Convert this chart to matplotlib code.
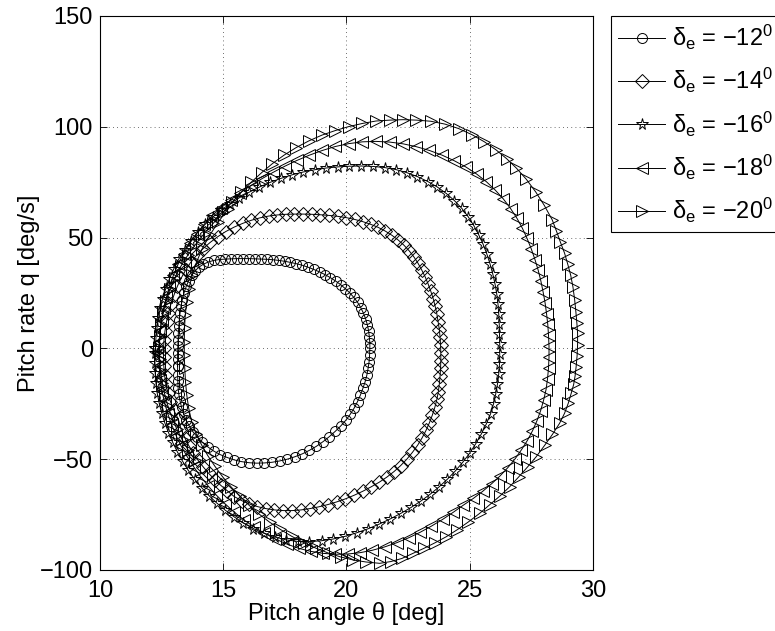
import numpy as np
import matplotlib
matplotlib.use("Agg")
import matplotlib.pyplot as plt

# (pitch angle theta [deg], pitch rate q [deg/s])
loop_12 = [
    (13.15, -8), (13.15, -5), (13.15, -2), (13.16, 1), (13.17, 4), (13.18, 7), (13.2, 10),
    (13.22, 13), (13.25, 16), (13.29, 19), (13.34, 22), (13.41, 25), (13.5, 28),
    (13.6, 30.6), (13.72, 33), (13.86, 35), (14.02, 36.7), (14.2, 38), (14.4, 39),
    (14.62, 39.7), (14.85, 40.1), (15.09, 40.3), (15.33, 40.4), (15.57, 40.5), (15.81, 40.5),
    (16.05, 40.5), (16.29, 40.4), (16.53, 40.3), (16.77, 40.2), (17.01, 40.0), (17.25, 39.7),
    (17.49, 39.3), (17.73, 38.8), (17.97, 38.2), (18.21, 37.5), (18.45, 36.6), (18.68, 35.6),
    (18.91, 34.5), (19.13, 33.3), (19.35, 31.9), (19.56, 30.4), (19.76, 28.8), (19.95, 27),
    (20.13, 25.1), (20.3, 23), (20.45, 20.8), (20.58, 18.4), (20.69, 15.9), (20.78, 13.3),
    (20.85, 10.6), (20.9, 7.9), (20.93, 5.2), (20.95, 2.4), (20.95, 0), (20.94, -3),
    (20.92, -6), (20.88, -9), (20.83, -12), (20.76, -15), (20.67, -18), (20.57, -21),
    (20.45, -24), (20.31, -27), (20.15, -29.8), (19.97, -32.5), (19.77, -35), (19.55, -37.4),
    (19.31, -39.8), (19.05, -42.1), (18.78, -44.2), (18.5, -46), (18.21, -47.6),
    (17.91, -48.9), (17.6, -50), (17.29, -50.8), (16.98, -51.4), (16.67, -51.7),
    (16.36, -51.8), (16.05, -51.6), (15.74, -51.1), (15.44, -50.3), (15.15, -49.2),
    (14.87, -47.9), (14.61, -46.3), (14.37, -44.4), (14.15, -42.3), (13.95, -40),
    (13.77, -37.6), (13.62, -35), (13.49, -32.3), (13.39, -29.5), (13.31, -26.6),
    (13.25, -23.7), (13.2, -20.8), (13.17, -17.8), (13.16, -14.8), (13.15, -11.8),
    (13.15, -8),
]

loop_14 = [
    (13.18, -32), (13.0, -28), (12.86, -24), (12.75, -20), (12.67, -16), (12.62, -12),
    (12.59, -8), (12.58, -4), (12.58, 0), (12.6, 4), (12.64, 8), (12.7, 12), (12.78, 16),
    (12.88, 20), (13.0, 24), (13.14, 28), (13.3, 31.8), (13.48, 35.4), (13.68, 38.8),
    (13.92, 42), (14.18, 45), (14.47, 47.8), (14.78, 50.4), (15.1, 52.7), (15.44, 54.7),
    (15.79, 56.4), (16.14, 57.8), (16.49, 58.9), (16.84, 59.7), (17.19, 60.2), (17.54, 60.5),
    (17.89, 60.6), (18.24, 60.6), (18.59, 60.5), (18.94, 60.3), (19.29, 60.0), (19.64, 59.6),
    (19.99, 59.0), (20.33, 58.2), (20.66, 57.2), (20.98, 56.0), (21.29, 54.6), (21.58, 52.9),
    (21.85, 51.0), (22.1, 48.9), (22.33, 46.6), (22.54, 44.1), (22.73, 41.4), (22.9, 38.5),
    (23.05, 35.5), (23.19, 32.4), (23.31, 29.2), (23.42, 25.9), (23.52, 22.5), (23.6, 19.0),
    (23.67, 15.5), (23.72, 12.0), (23.77, 8.5), (23.8, 5.0), (23.82, 1.5), (23.83, -2.0),
    (23.83, -5.5), (23.82, -9.0), (23.8, -12.5), (23.77, -16.0), (23.73, -19.5),
    (23.67, -23.0), (23.59, -26.5), (23.49, -30.0), (23.37, -33.5), (23.23, -37.0),
    (23.07, -40.4), (22.89, -43.7), (22.68, -46.9), (22.45, -50.0), (22.2, -52.9),
    (21.93, -55.6), (21.64, -58.1), (21.33, -60.4), (21.0, -62.5), (20.66, -64.5),
    (20.31, -66.3), (19.96, -67.9), (19.6, -69.3), (19.24, -70.5), (18.88, -71.5),
    (18.52, -72.3), (18.16, -72.9), (17.8, -73.2), (17.44, -73.2), (17.08, -72.9),
    (16.73, -72.3), (16.39, -71.4), (16.06, -70.2), (15.75, -68.7), (15.45, -66.9),
    (15.17, -64.3), (14.9, -61.8), (14.65, -59.2), (14.41, -56.4), (14.19, -53.5),
    (13.98, -50.5), (13.79, -47.3), (13.61, -44.0), (13.45, -40.5), (13.3, -36.8),
    (13.18, -32),
]

loop_16 = [
    (12.25, 0), (12.27, 4.5), (12.31, 9), (12.37, 13.5), (12.45, 18), (12.55, 22.5),
    (12.67, 27), (12.82, 31.5), (13.0, 36), (13.2, 40.3), (13.43, 44.5), (13.68, 48.5),
    (13.96, 52.3), (14.26, 55.9), (14.58, 59.3), (14.92, 62.4), (15.28, 65.3), (15.66, 68),
    (16.06, 70.5), (16.47, 72.8), (16.9, 74.9), (17.34, 76.7), (17.79, 78.3), (18.25, 79.6),
    (18.71, 80.6), (19.18, 81.4), (19.65, 81.9), (20.12, 82.2), (20.6, 82.3), (21.08, 82.1),
    (21.55, 81.6), (22.0, 80.7), (22.45, 79.3), (22.88, 77.5), (23.3, 75.3), (23.69, 72.8),
    (24.05, 69.9), (24.38, 66.7), (24.68, 63.2), (24.94, 59.4), (25.17, 55.4), (25.37, 51.2),
    (25.55, 46.9), (25.7, 42.5), (25.83, 38), (25.94, 33.5), (26.03, 29), (26.1, 24.5),
    (26.15, 20), (26.18, 15.5), (26.2, 11), (26.21, 6.5), (26.22, 2), (26.22, -2.5),
    (26.21, -7), (26.18, -11.5), (26.13, -16), (26.06, -20.5), (25.97, -25), (25.85, -29.5),
    (25.68, -34), (25.48, -38.5), (25.25, -43), (25.0, -47.3), (24.72, -51.4), (24.42, -55.3),
    (24.1, -59), (23.76, -62.5), (23.4, -65.8), (23.02, -68.9), (22.62, -71.8), (22.2, -74.5),
    (21.77, -77), (21.33, -79.3), (20.88, -81.4), (20.42, -83.2), (19.95, -84.8),
    (19.47, -86), (18.99, -86.8), (18.5, -87.2), (18.02, -87.1), (17.55, -86.4),
    (17.09, -85.1), (16.65, -83.4), (16.22, -81.3), (15.82, -78.8), (15.44, -76),
    (15.08, -73), (14.74, -69.8), (14.42, -66.4), (14.12, -62.8), (13.84, -59), (13.58, -55),
    (13.35, -50.9), (13.14, -46.7), (12.95, -42.4), (12.78, -38), (12.63, -33.6),
    (12.5, -29.1), (12.4, -24.6), (12.32, -20.1), (12.27, -15.6), (12.24, -11.1),
    (12.23, -6.6), (12.24, -2.1), (12.25, 0),
]

loop_18 = [
    (12.4, -2), (12.41, 3), (12.44, 8), (12.5, 13), (12.58, 18), (12.69, 23), (12.82, 28),
    (12.98, 33), (13.17, 38), (13.39, 42.8), (13.64, 47.4), (13.92, 51.8), (14.23, 56),
    (14.56, 60), (14.92, 63.5), (15.3, 67), (15.7, 70.3), (16.12, 73.5), (16.56, 76.5),
    (17.02, 79.4), (17.5, 82.2), (17.99, 84.8), (18.5, 87.2), (19.02, 89.3), (19.55, 91.1),
    (20.1, 92.4), (20.65, 93.2), (21.2, 93.4), (21.75, 93.1), (22.3, 92.3), (22.84, 91.0),
    (23.37, 89.3), (23.88, 87.2), (24.37, 84.7), (24.84, 81.9), (25.28, 78.7), (25.68, 75.2),
    (26.04, 71.4), (26.37, 67.4), (26.66, 63.1), (26.92, 58.7), (27.14, 54.2), (27.33, 49.6),
    (27.5, 44.9), (27.65, 40.1), (27.78, 35.3), (27.89, 30.4), (27.98, 25.5), (28.06, 20.6),
    (28.12, 15.7), (28.17, 10.8), (28.2, 5.9), (28.22, 1), (28.22, -3.9), (28.2, -8.8),
    (28.16, -13.7), (28.1, -18.6), (28.0, -23.4), (27.88, -28.1), (27.73, -32.7),
    (27.55, -37.2), (27.34, -41.6), (27.1, -45.8), (26.84, -49.9), (26.55, -53.8),
    (26.23, -57.6), (25.89, -61.1), (25.53, -64.5), (25.15, -67.7), (24.75, -70.7),
    (24.33, -74), (23.9, -77.2), (23.45, -80.2), (22.99, -83), (22.52, -85.5), (22.04, -87.7),
    (21.55, -89.6), (21.05, -91.1), (20.55, -92.2), (20.05, -92.8), (19.55, -92.9),
    (19.05, -92.5), (18.55, -91.6), (18.06, -90.2), (17.58, -88.3), (17.12, -86),
    (16.67, -83.4), (16.24, -80.5), (15.83, -77.3), (15.44, -73.8), (15.07, -70.1),
    (14.72, -66.2), (14.39, -62.1), (14.08, -57.8), (13.8, -53.4), (13.54, -48.9),
    (13.3, -44.2), (13.09, -39.4), (12.91, -34.5), (12.75, -29.5), (12.62, -24.5),
    (12.52, -19.4), (12.45, -14.3), (12.41, -9.2), (12.4, -4.1),
]

loop_20 = [
    (15.2, 63), (14.8, 57), (14.45, 51), (14.15, 45), (13.92, 39), (13.74, 33), (13.61, 27),
    (13.52, 21), (13.46, 15), (13.43, 9), (13.42, 3), (13.42, -3), (13.44, -9), (13.47, -15),
    (13.52, -21), (13.6, -27), (13.72, -33), (13.9, -38.5), (14.12, -43.5), (14.38, -48.5),
    (14.67, -53.3), (14.98, -58), (15.32, -62.5), (15.68, -66.8), (16.06, -70.9),
    (16.46, -74.8), (16.88, -78.4), (17.32, -81.7), (17.78, -84.8), (18.26, -87.6),
    (18.75, -90.1), (19.25, -92.3), (19.76, -94.1), (20.28, -95.5), (20.8, -96.4),
    (21.35, -97), (21.8, -96.2), (22.25, -94.8), (22.7, -92.5), (23.15, -90.2), (23.6, -87.7),
    (24.05, -85), (24.5, -81.8), (24.95, -78.3), (25.4, -74.5), (25.82, -70.5), (26.23, -66.6),
    (26.62, -62.5), (26.99, -58), (27.35, -53.5), (27.7, -48.9), (28.04, -43.8),
    (28.36, -38.8), (28.65, -33.8), (28.85, -29.3), (29.0, -24.8), (29.12, -20.3),
    (29.22, -16.3), (29.28, -12.3), (29.32, -8.3), (29.36, -3.3), (29.38, 1.7), (29.38, 6.8),
    (29.35, 11.5), (29.31, 16.5), (29.26, 22), (29.19, 27.8), (29.1, 33), (28.98, 38),
    (28.85, 43), (28.68, 48), (28.52, 53), (28.35, 58), (28.03, 64.5), (27.68, 70.6),
    (27.3, 76.3), (26.9, 81.3), (26.5, 85.6), (26.08, 89.5), (25.6, 93.2), (25.1, 96.4),
    (24.55, 99.2), (24.0, 101.2), (23.42, 102.5), (22.84, 103), (22.3, 103.2),
    (21.76, 103), (21.2, 102.6), (20.65, 101.5), (20.1, 100.1), (19.55, 98.3), (19.0, 96.2),
    (18.47, 93.6), (17.96, 90.6), (17.47, 87.2), (17.0, 83.4), (16.56, 79.3), (16.14, 75),
    (15.74, 70.5), (15.36, 66), (15.0, 61.4), (14.6, 56.5), (14.22, 51.7), (13.88, 46.9),
    (13.56, 42), (13.28, 37), (13.04, 31.9), (12.84, 26.7), (12.68, 21.5), (12.56, 16.2),
    (12.48, 10.9), (12.43, 5.6), (12.41, 0.3), (12.42, -5), (12.46, -10.3), (12.53, -15.6),
    (12.63, -20.9), (12.76, -26.1), (12.92, -31.2), (13.11, -36.2), (13.33, -41.1),
    (13.58, -45.9), (13.86, -50.5),
]

elevator = [-12, -14, -16, -18, -20]
markers = ["o", "D", "*", "<", ">"]
marker_sizes = [7.2, 7.0, 8.5, 8.5, 8.5]
x_ticks = [10, 15, 20, 25, 30]
y_ticks = [-100, -50, 0, 50, 100, 150]

plt.rcParams["font.family"] = ["Liberation Sans", "DejaVu Sans"]
plt.rcParams["mathtext.fontset"] = "custom"
plt.rcParams["mathtext.rm"] = "Liberation Sans"
plt.rcParams["mathtext.it"] = "Liberation Sans:italic"
plt.rcParams["mathtext.default"] = "regular"

fig = plt.figure(figsize=(7.75, 6.31), dpi=100)
ax = fig.add_axes([0.129, 0.0967, 0.636, 0.878])

for pts, de, mk, ms in zip([loop_12, loop_14, loop_16, loop_18, loop_20],
                           elevator, markers, marker_sizes):
    arr = np.array(pts)
    label = r"$\delta_e$ = $-%d^0$" % abs(de)
    ax.plot(arr[:, 0], arr[:, 1], color="k", lw=0.7, marker=mk, ms=ms,
            mfc="none", mec="k", mew=0.7, label=label)

ax.set_xlim(10, 30)
ax.set_ylim(-100, 150)
ax.set_xticks(x_ticks)
ax.set_yticks(y_ticks)
ax.grid(True, linestyle=(0, (1, 4)), color="0.25", lw=0.6)
ax.tick_params(direction="in", top=True, right=True, length=5, width=0.6, labelsize=17)
ax.tick_params(axis="x", pad=7)
ax.tick_params(axis="y", pad=5)
for sp in ax.spines.values():
    sp.set_linewidth(0.8)
ax.set_xlabel("Pitch angle \u03b8 [deg]", fontsize=17, labelpad=0)
ax.set_ylabel("Pitch rate q [deg/s]", fontsize=17, labelpad=0)

leg = ax.legend(loc="upper left", bbox_to_anchor=(611 / 775, 1 - 16 / 631),
                bbox_transform=fig.transFigure, borderaxespad=0, fancybox=False,
                framealpha=1, edgecolor="k", fontsize=17, numpoints=1,
                handlelength=2.0, handletextpad=0.3, labelspacing=0.6,
                borderpad=0.3)
leg.get_frame().set_linewidth(0.8)

fig.savefig("out.png", dpi=100)
